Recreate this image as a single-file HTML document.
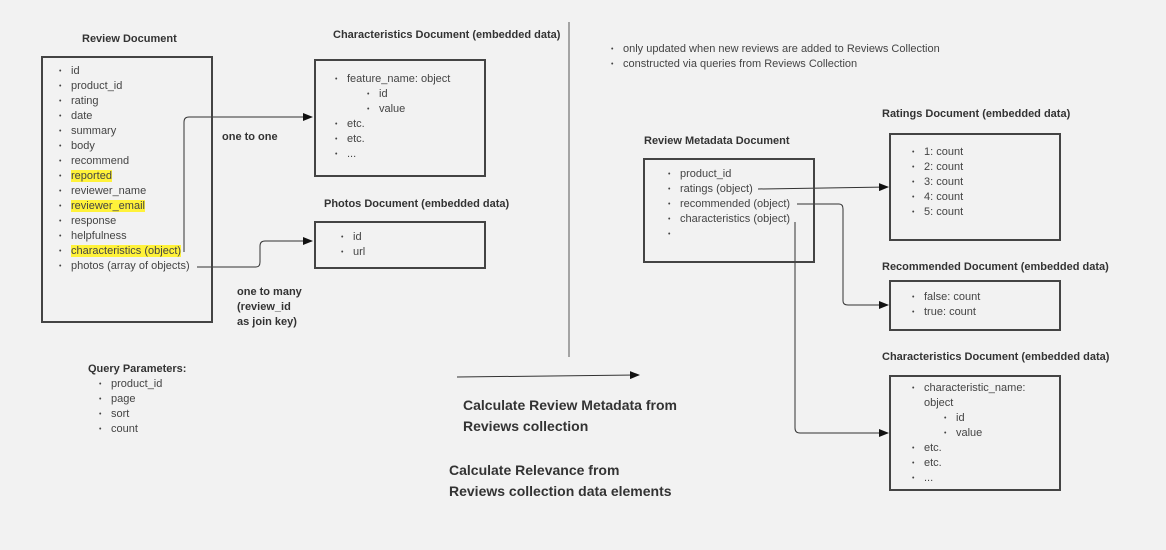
<!DOCTYPE html>
<html><head><meta charset="utf-8"><style>
body{margin:0;width:1166px;height:550px;background:#f2f2f2;position:relative;overflow:hidden;font-family:"Liberation Sans",sans-serif;color:#333;}
.t{position:absolute;font-size:11px;font-weight:bold;color:#333;white-space:nowrap}
.box{position:absolute;border:2px solid #444;box-sizing:border-box}
.l{position:absolute;font-size:11px;line-height:15px;white-space:nowrap;color:#444}
.l div{position:relative;padding-left:0}
.l div:before{content:"•";position:absolute;left:-12px;font-size:7px;color:#444}
.l div.nb:before{content:""}
.hl{background:#fff23a}
.big{position:absolute;font-size:14px;font-weight:bold;color:#333;line-height:21px}
</style></head><body>
<svg width="1166" height="550" style="position:absolute;left:0;top:0">
<defs><marker id="a" markerWidth="10" markerHeight="8" refX="9" refY="4" orient="auto" markerUnits="userSpaceOnUse"><path d="M0,0L10,4L0,8z" fill="#111"/></marker></defs>
<g fill="none" stroke="#333" stroke-width="1">
<path d="M184,252 V122 Q184,117 189,117 H312" marker-end="url(#a)"/>
<path d="M197,267 H256 Q260,267 260,262 V246 Q260,241 265,241 H312" marker-end="url(#a)"/>
<path d="M758,189 L888,187" marker-end="url(#a)"/>
<path d="M797,204 H839 Q843,204 843,209 V301 Q843,305 848,305 H888" marker-end="url(#a)"/>
<path d="M795,222 V428 Q795,433 800,433 H888" marker-end="url(#a)"/>
<path d="M457,377 L639,375" marker-end="url(#a)"/>
<line x1="569" y1="22" x2="569" y2="357" stroke="#555"/>
</g></svg>

<div class="t" style="left:82px;top:33px">Review Document</div>
<div class="box" style="left:41px;top:56px;width:172px;height:267px"></div>
<div class="l" style="left:71px;top:64px">
<div>id</div><div>product_id</div><div>rating</div><div>date</div><div>summary</div><div>body</div><div>recommend</div><div><span class="hl">reported</span></div><div>reviewer_name</div><div><span class="hl">reviewer_email</span></div><div>response</div><div>helpfulness</div><div><span class="hl">characteristics (object)</span></div><div>photos (array of objects)</div></div>

<div class="t" style="left:222px;top:131px">one to one</div>
<div class="t" style="left:237px;top:285px;line-height:15px">one to many<br>(review_id<br>as join key)</div>

<div class="t" style="left:333px;top:29px">Characteristics Document (embedded data)</div>
<div class="box" style="left:314px;top:59px;width:172px;height:118px"></div>
<div class="l" style="left:347px;top:72px"><div>feature_name: object</div><div style="left:32px">id</div><div style="left:32px">value</div><div>etc.</div><div>etc.</div><div>...</div></div>

<div class="t" style="left:324px;top:198px">Photos Document (embedded data)</div>
<div class="box" style="left:314px;top:221px;width:172px;height:48px"></div>
<div class="l" style="left:353px;top:230px"><div>id</div><div>url</div></div>

<div class="t" style="left:88px;top:363px">Query Parameters:</div>
<div class="l" style="left:111px;top:377px"><div>product_id</div><div>page</div><div>sort</div><div>count</div></div>

<div class="big" style="left:463px;top:395px">Calculate Review Metadata from<br>Reviews collection</div>
<div class="big" style="left:449px;top:460px">Calculate Relevance from<br>Reviews collection data elements</div>

<div class="l" style="left:623px;top:42px"><div>only updated when new reviews are added to Reviews Collection</div><div>constructed via queries from Reviews Collection</div></div>

<div class="t" style="left:644px;top:135px">Review Metadata Document</div>
<div class="box" style="left:643px;top:158px;width:172px;height:105px"></div>
<div class="l" style="left:680px;top:167px"><div>product_id</div><div>ratings (object)</div><div>recommended (object)</div><div>characteristics (object)</div><div>&nbsp;</div></div>

<div class="t" style="left:882px;top:108px">Ratings Document (embedded data)</div>
<div class="box" style="left:889px;top:133px;width:172px;height:108px"></div>
<div class="l" style="left:924px;top:145px"><div>1: count</div><div>2: count</div><div>3: count</div><div>4: count</div><div>5: count</div></div>

<div class="t" style="left:882px;top:261px">Recommended Document (embedded data)</div>
<div class="box" style="left:889px;top:280px;width:172px;height:51px"></div>
<div class="l" style="left:924px;top:290px"><div>false: count</div><div>true: count</div></div>

<div class="t" style="left:882px;top:351px">Characteristics Document (embedded data)</div>
<div class="box" style="left:889px;top:375px;width:172px;height:116px"></div>
<div class="l" style="left:924px;top:381px"><div>characteristic_name:</div><div class="nb">object</div><div style="left:32px">id</div><div style="left:32px">value</div><div>etc.</div><div>etc.</div><div>...</div></div>
</body></html>
